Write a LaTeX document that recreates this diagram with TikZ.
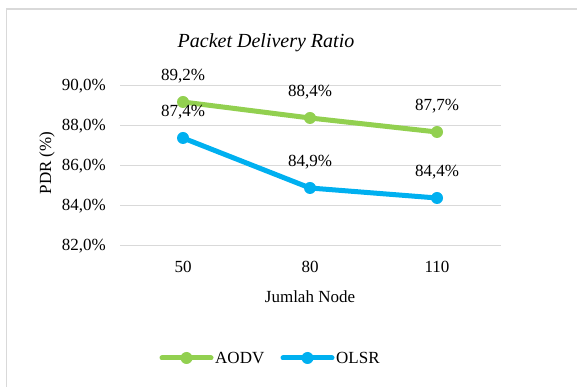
\documentclass[tikz,border=0pt]{standalone}
\usepackage{fontspec}
\setmainfont{Liberation Serif}
\usepackage{xcolor}
\usetikzlibrary{positioning}
\definecolor{aodv}{HTML}{92D050}
\definecolor{olsr}{HTML}{00B0F0}
\definecolor{grid}{HTML}{D9D9D9}
\tikzset{lbl/.style={font=\fontsize{17}{20}\selectfont,inner sep=0pt},
dot/.style={circle,fill=#1,inner sep=0pt,minimum size=12pt}}
\begin{document}
\begin{tikzpicture}[x=1pt,y=1pt]
\useasboundingbox(0,0)rectangle(577,387);
\clip(0,0)rectangle(577,387);
\draw[grid,line width=1.5pt](6.5,-5)--(6.5,378)--(590,378);
\node[lbl,font=\fontsize{20}{24}\selectfont\itshape](title)at(266,344){Packet Delivery Ratio};
\node[lbl,rotate=90](ylab)at(47,224){PDR (\%)};
\node[lbl](xlab)at(310,90){Jumlah Node};
\begin{scope}[x=127pt,y=20pt,shift={(56pt,-1499pt)}]
\foreach \v in {82,84,86,88,90}{
\draw[grid,line width=1pt](64pt,\v)--(445pt,\v);
\node[lbl,anchor=east](tick\v)at(50pt,\v){\v,0\%};}
\foreach \i/\n in {1/50,2/80,3/110}
\node[lbl](cat\i)at([yshift=-21pt]\i,82){\n};
\coordinate(a1)at(1,89.2);\coordinate(a2)at(2,88.4);\coordinate(a3)at(3,87.7);
\coordinate(o1)at(1,87.4);\coordinate(o2)at(2,84.9);\coordinate(o3)at(3,84.4);
\end{scope}
\draw[aodv,line width=5pt,line join=round](a1)--(a2)--(a3);
\draw[olsr,line width=5pt,line join=round](o1)--(o2)--(o3);
\foreach \p/\t in {a1/{89,2},a2/{88,4},a3/{87,7}}{
\node[dot=aodv](d\p)at(\p){};
\node[lbl,above=26pt of \p,anchor=center](v\p){\t\%};}
\foreach \p/\t in {o1/{87,4},o2/{84,9},o3/{84,4}}{
\node[dot=olsr](d\p)at(\p){};
\node[lbl,above=26pt of \p,anchor=center](v\p){\t\%};}
\coordinate(la1)at(162,29);\coordinate(la2)at(211,29);
\coordinate(lo1)at(283,29);\coordinate(lo2)at(332,29);
\draw[aodv,line width=5pt,line cap=round](la1)--node[dot=aodv](lam){}(la2);
\draw[olsr,line width=5pt,line cap=round](lo1)--node[dot=olsr](lom){}(lo2);
\node[lbl,right=4pt of la2](aodvtxt){AODV};
\node[lbl,right=4pt of lo2](olsrtxt){OLSR};
\end{tikzpicture}
\end{document}
